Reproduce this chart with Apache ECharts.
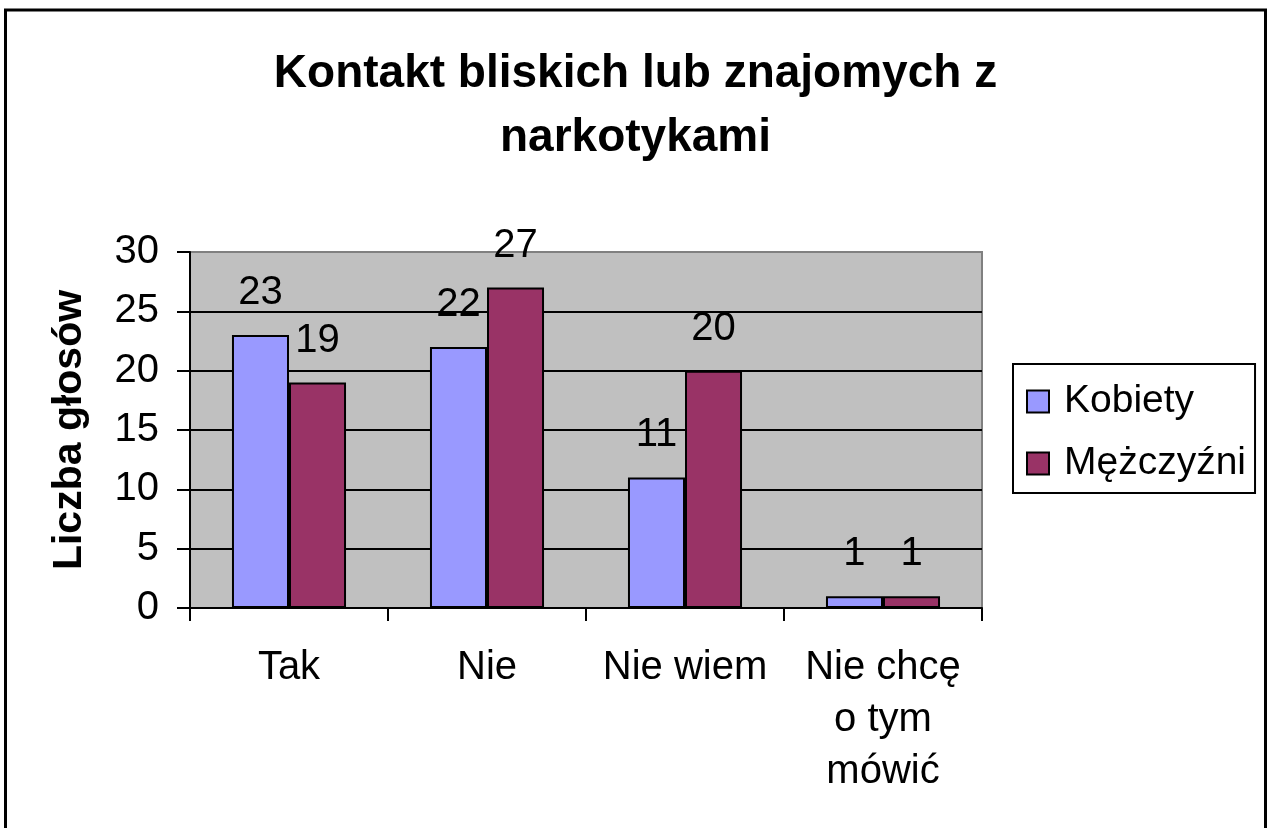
<!DOCTYPE html>
<html>
<head>
<meta charset="utf-8">
<script src="https://cdn.jsdelivr.net/npm/echarts@6/dist/echarts.min.js"></script>
<style>
  html, body { margin: 0; padding: 0; background: #fff; }
  #chart { width: 1271px; height: 828px; }
</style>
</head>
<body>
<div id="chart"></div>
<script>
const categories = ['Tak', 'Nie', 'Nie wiem', 'Nie chcę\no tym\nmówić']
const kobiety = [23, 22, 11, 1]
const mezczyzni = [19, 27, 20, 1]
const seriesNames = ['Kobiety', 'Mężczyźni']
const yTicks = { min: 0, max: 30, interval: 5 }

const font = '"Liberation Sans", Arial, sans-serif'

const chart = echarts.init(document.getElementById('chart'), null, { renderer: 'canvas' })

const barLabel = {
  show: true,
  position: 'top',
  distance: 22,
  color: '#000',
  fontSize: 40,
  fontFamily: font,
}

chart.setOption({
  backgroundColor: '#fff',
  animation: false,
  title: {
    text: 'Kontakt bliskich lub znajomych z\nnarkotykami',
    left: 'center',
    top: 37,
    textStyle: {
      fontFamily: font,
      fontWeight: 'bold',
      fontSize: 46,
      lineHeight: 64,
      color: '#000',
    },
  },
  graphic: [
    {
      type: 'rect',
      shape: { x: 5.5, y: 10, width: 1260, height: 840 },
      style: { fill: 'none', stroke: '#000', lineWidth: 3 },
      z: 100,
      silent: true,
    },
  ],
  legend: {
    data: seriesNames,
    orient: 'vertical',
    icon: 'rect',
    left: 1013,
    top: 364,
    padding: [18, 9, 10, 13],
    itemGap: 23,
    itemWidth: 22,
    itemHeight: 22,
    borderColor: '#000',
    borderWidth: 2,
    itemStyle: { borderColor: '#000', borderWidth: 2 },
    textStyle: {
      fontFamily: font,
      fontSize: 39,
      color: '#000',
      padding: [0, 0, 0, 10],
    },
  },
  grid: {
    left: 190,
    right: 289,
    top: 252,
    bottom: 220,
    show: true,
    backgroundColor: '#C0C0C0',
    borderColor: '#808080',
    borderWidth: 2,
  },
  xAxis: {
    type: 'category',
    data: categories,
    boundaryGap: true,
    axisLine: { lineStyle: { color: '#000', width: 2 } },
    axisTick: { show: true, length: 13, lineStyle: { color: '#000', width: 2 } },
    axisLabel: {
      color: '#000',
      fontFamily: font,
      fontSize: 40,
      lineHeight: 52,
      margin: 34,
      interval: 0,
    },
  },
  yAxis: {
    type: 'value',
    min: yTicks.min,
    max: yTicks.max,
    interval: yTicks.interval,
    name: 'Liczba głosów',
    nameLocation: 'middle',
    nameGap: 100,
    nameTextStyle: {
      fontFamily: font,
      fontWeight: 'bold',
      fontSize: 41,
      color: '#000',
    },
    axisLine: { show: true, lineStyle: { color: '#000', width: 2 } },
    axisTick: { show: true, length: 13, lineStyle: { color: '#000', width: 2 } },
    axisLabel: {
      color: '#000',
      fontFamily: font,
      fontSize: 40,
      margin: 31,
    },
    splitLine: {
      show: true,
      lineStyle: {
        color: ['#000', '#000', '#000', '#000', '#000', '#000', '#808080'],
        width: 2,
      },
    },
  },
  series: [
    {
      name: seriesNames[0],
      type: 'bar',
      data: kobiety,
      barWidth: '28.8%',
      barGap: '0%',
      itemStyle: { color: '#9999FF', borderColor: '#000', borderWidth: 2 },
      label: barLabel,
    },
    {
      name: seriesNames[1],
      type: 'bar',
      data: mezczyzni,
      barWidth: '28.8%',
      barGap: '0%',
      itemStyle: { color: '#993366', borderColor: '#000', borderWidth: 2 },
      label: barLabel,
    },
  ],
})
</script>
</body>
</html>
